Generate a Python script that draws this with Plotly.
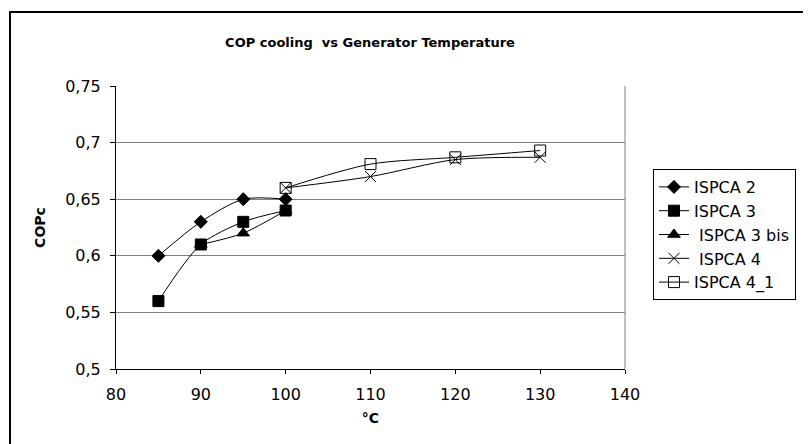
import plotly.graph_objects as go

# Data
x_ispca2 = [85, 90, 95, 100]
y_ispca2 = [0.60, 0.63, 0.65, 0.65]
x_ispca3 = [85, 90, 95, 100]
y_ispca3 = [0.56, 0.61, 0.63, 0.64]
x_ispca3bis = [90, 95, 100]
y_ispca3bis = [0.61, 0.62, 0.64]
x_ispca4 = [100, 110, 120, 130]
y_ispca4 = [0.66, 0.67, 0.685, 0.687]
x_ispca4_1 = [100, 110, 120, 130]
y_ispca4_1 = [0.66, 0.681, 0.687, 0.693]

x_ticks = [80, 90, 100, 110, 120, 130, 140]
y_ticks = [0.5, 0.55, 0.6, 0.65, 0.7, 0.75]
y_ticklabels = ["0,5", "0,55", "0,6", "0,65", "0,7", "0,75"]

series = [
    ("ISPCA 2", x_ispca2, y_ispca2, "diamond", 10),
    ("ISPCA 3", x_ispca3, y_ispca3, "square", 11),
    (" ISPCA 3 bis", x_ispca3bis, y_ispca3bis, "triangle-up", 11),
    (" ISPCA 4", x_ispca4, y_ispca4, "x-thin", 11),
    ("ISPCA 4_1", x_ispca4_1, y_ispca4_1, "square-open", 11),
]

fig = go.Figure()
for name, xs, ys, sym, sz in series:
    fig.add_trace(go.Scatter(
        x=xs, y=ys, name=name, mode="lines+markers",
        line=dict(color="black", width=1, shape="spline", smoothing=0.8),
        marker=dict(symbol=sym, size=sz, color="black",
                    line=dict(color="black", width=1)),
    ))

font = "DejaVu Sans, sans-serif"
W, H = 803, 436
L, T, R, B = 108, 78, 186, 75
pw, ph = W - L - R, H - T - B
fig.update_layout(
    width=W, height=H,
    margin=dict(l=L, r=R, t=T, b=B),
    paper_bgcolor="white", plot_bgcolor="white",
    font=dict(family=font, size=16, color="black"),
    title=dict(text="<b>COP cooling  vs Generator Temperature</b>",
               x=362/W, xanchor="center", y=1-34/H, yanchor="middle",
               font=dict(size=13, family=font)),
    showlegend=True,
    legend=dict(x=(645-L)/pw, xanchor="left", y=1-(161-T)/ph, yanchor="top",
                bordercolor="black", borderwidth=1, bgcolor="white",
                font=dict(size=16, family=font),
                tracegroupgap=0, itemwidth=30),
    shapes=[
        dict(type="rect", xref="paper", yref="paper",
             x0=(2-L)/pw, x1=1.5, y0=-0.5, y1=1+(T-4)/ph,
             line=dict(color="black", width=2), fillcolor="rgba(0,0,0,0)", layer="below"),
        dict(type="line", xref="paper", yref="paper", x0=1, x1=1, y0=0, y1=1,
             line=dict(color="#808080", width=1)),
    ],
)
fig.update_xaxes(
    range=[80, 140], tickvals=x_ticks, showgrid=False,
    showline=True, linecolor="black", linewidth=1,
    ticks="outside", ticklen=4, tickcolor="black", ticklabelstandoff=7,
    tickfont=dict(size=16), zeroline=False,
    title=dict(text="<b>°C</b>", font=dict(size=14), standoff=9),
)
fig.update_yaxes(
    range=[0.5, 0.75], tickvals=y_ticks, ticktext=y_ticklabels,
    showgrid=True, gridcolor="#808080", gridwidth=1,
    showline=True, linecolor="black", linewidth=1,
    ticks="outside", ticklen=5, tickcolor="black", ticklabelstandoff=6,
    tickfont=dict(size=16), zeroline=False,
    title=dict(text="<b>COPc</b>", font=dict(size=14), standoff=16),
)
fig.write_html("out.html")
